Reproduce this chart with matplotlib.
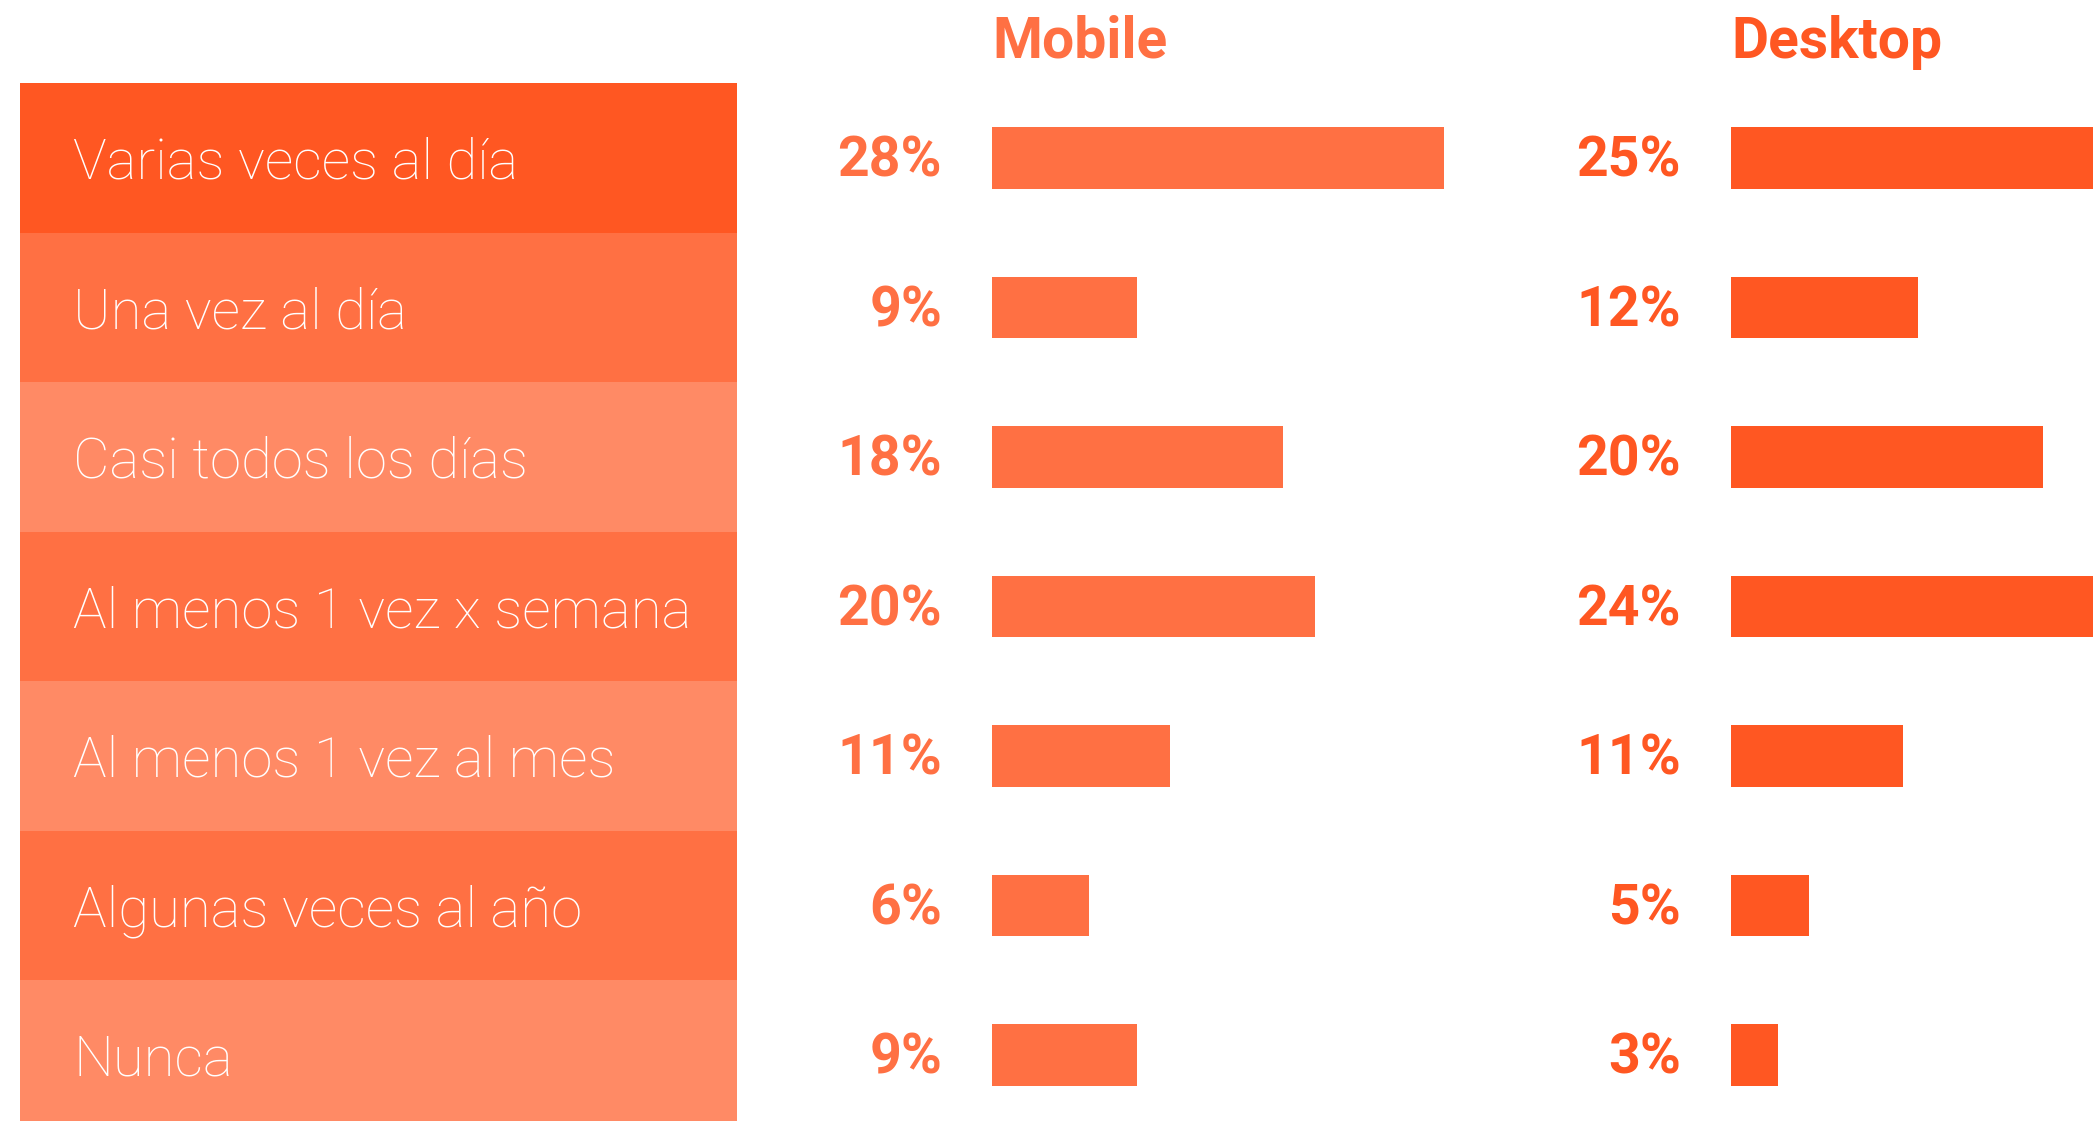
import matplotlib
matplotlib.use("Agg")
import matplotlib.pyplot as plt

# data
categories = ["Varias veces al día", "Una vez al día", "Casi todos los días",
              "Al menos 1 vez x semana", "Al menos 1 vez al mes",
              "Algunas veces al año", "Nunca"]
mobile = [28, 9, 18, 20, 11, 6, 9]
desktop = [25, 12, 20, 24, 11, 5, 3]
headers = ["Mobile", "Desktop"]

# palette
row_colors = ["#FF5722", "#FF7043", "#FF8A65", "#FF7043", "#FF8A65", "#FF7043", "#FF8A65"]
mobile_color = "#FF7043"
desktop_color = "#FF5722"

W, H = 2093, 1121
fig = plt.figure(figsize=(W / 100, H / 100), dpi=100)

# shared vertical mapping: row i centred at 158 + 149.5*i pixels from the top
row_px, first_px = 149.5, 158
ylim = ((H - first_px) / row_px, -first_px / row_px)
rows = list(range(len(categories)))

def make_axes(x0, x1):
    ax = fig.add_axes([x0 / W, 0, (x1 - x0) / W, 1])
    ax.set_ylim(*ylim)
    ax.axis("off")
    return ax

# left table of categories
ax_t = make_axes(20, 737)
ax_t.set_xlim(0, 1)
ax_t.barh(rows, 1, height=1.0, color=row_colors, linewidth=0)
for i, cat in enumerate(categories):
    ax_t.text(0.074, i + 0.14, cat, color="white", fontsize=40.5,
              family="Roboto", fontweight="light", va="baseline", ha="left")

# bar columns: (data, colour, left px, right px, px per %)
columns = [
    (mobile, mobile_color, 992, 1731, 16.15),
    (desktop, desktop_color, 1731, W, 15.6),
]
for (vals, col, x0, x1, scale), head in zip(columns, headers):
    ax = make_axes(x0, x1)
    ax.set_xlim(0, (x1 - x0) / scale)
    ax.barh(rows, vals, height=0.41, color=col, linewidth=0)
    for i, v in enumerate(vals):
        ax.text(-50 / scale, i + 0.125, f"{v}%", color=col, fontsize=40,
                family="Roboto", fontweight="bold", ha="right", va="baseline",
                clip_on=False)
    ax.text(0, -0.67, head, color=col, fontsize=41, family="Roboto",
            fontweight="bold", ha="left", va="baseline", clip_on=False)

fig.savefig("out.png", dpi=100, facecolor="white")
